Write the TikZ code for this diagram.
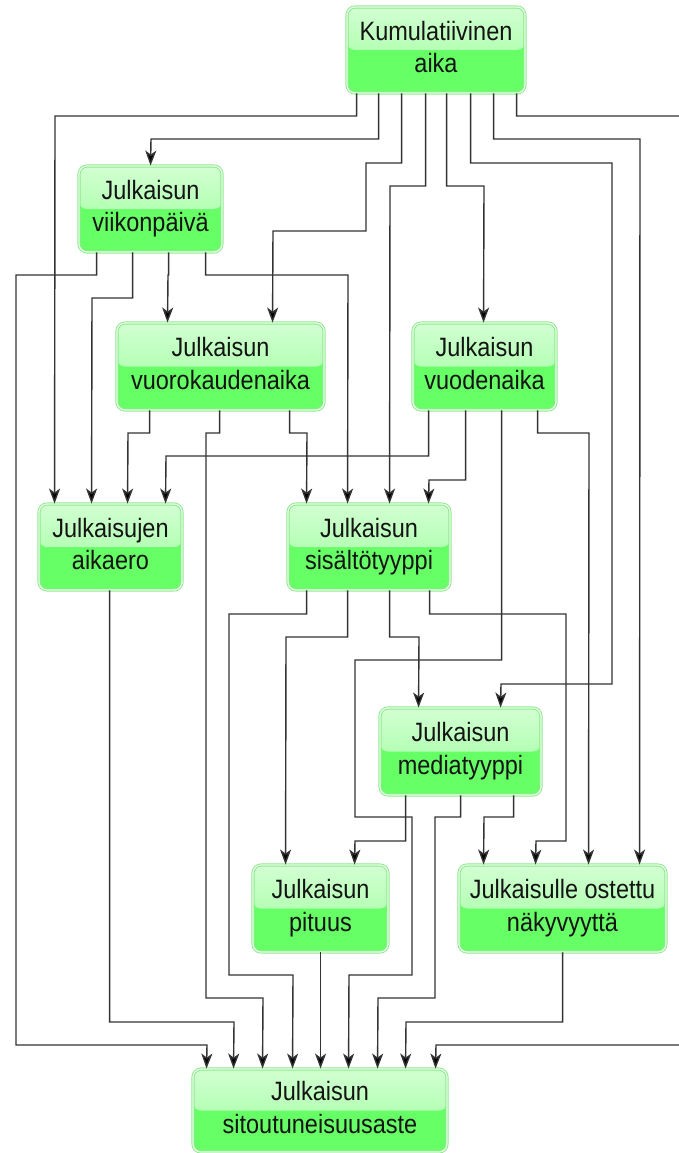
\documentclass[tikz,border=0pt]{standalone}
\usepackage{fontspec}
\setmainfont{Liberation Sans}
\usepackage{graphicx}
\usetikzlibrary{arrows.meta}
\definecolor{gtop}{HTML}{D2FFD2}
\definecolor{gmid}{HTML}{98FF98}
\definecolor{gbot}{HTML}{66FF66}
\definecolor{gborder}{HTML}{8EE88E}
\definecolor{ginner}{HTML}{E6FFE6}
\definecolor{lineclr}{HTML}{333333}
\newcommand\twol[2]{\scalebox{1}[1.13]{\begin{tabular}{@{}c@{}}#1\\#2\end{tabular}}}
\begin{document}
\begin{tikzpicture}[x=1pt,y=-1pt,
  box/.style={rectangle, rounded corners=8pt, draw=gborder, line width=0.9pt,
    double=ginner, double distance=1.3pt, fill=gbot, align=center, inner sep=0pt,
    text=black!92, font=\fontsize{23.5}{28.5}\selectfont,
    path picture={\fill[top color=gtop, bottom color=gmid]
      (path picture bounding box.north west) rectangle (path picture bounding box.east);}},
  arr/.style={draw=lineclr, line width=1.4pt, -{Stealth[length=15pt,width=11pt,inset=4pt,fill=black]}}
]
\useasboundingbox (0,0) rectangle (678,1153);
\node[box, minimum width=178, minimum height=86] (kum) at (436,50) {\twol{Kumulatiivinen}{aika}};
\node[box, minimum width=143, minimum height=86] (viik) at (150.5,209) {\twol{Julkaisun}{viikonpäivä}};
\node[box, minimum width=207, minimum height=87] (vuoro) at (220.5,366.5) {\twol{Julkaisun}{vuorokaudenaika}};
\node[box, minimum width=143, minimum height=87] (vuod) at (484.5,366.5) {\twol{Julkaisun}{vuodenaika}};
\node[box, minimum width=143, minimum height=86] (aika) at (110.5,547) {\twol{Julkaisujen}{aikaero}};
\node[box, minimum width=162, minimum height=86] (sis) at (369,547) {\twol{Julkaisun}{sisältötyyppi}};
\node[box, minimum width=161, minimum height=87] (media) at (460.5,751.5) {\twol{Julkaisun}{mediatyyppi}};
\node[box, minimum width=135, minimum height=87] (pit) at (320.5,908.5) {\twol{Julkaisun}{pituus}};
\node[box, minimum width=207, minimum height=87] (ost) at (562.5,908.5) {\twol{Julkaisulle ostettu}{näkyvyyttä}};
\node[box, minimum width=254, minimum height=83] (sit) at (320,1110.5) {\twol{Julkaisun}{sitoutuneisuusaste}};
% from Kumulatiivinen aika
\draw[arr] ([xshift=10]kum.south west) |- (55,116) -- ([xshift=16]aika.north west);
\draw[arr] ([xshift=32]kum.south west) |- (151,139) -- ([xshift=72]viik.north west);
\draw[arr] ([xshift=55]kum.south west) |- (366,163) |- (273,231) -- ([xshift=156]vuoro.north west);
\draw[arr] ([xshift=79]kum.south west) |- (390,186) -- ([xshift=102]sis.north west);
\draw[arr] ([xshift=100]kum.south west) |- (484,186) -- ([xshift=71]vuod.north west);
\draw[arr] ([xshift=124]kum.south west) |- (612,163) |- (501,684) -- ([xshift=121]media.north west);
\draw[arr] ([xshift=147]kum.south west) |- (640,139) -- ([xshift=181]ost.north west);
\draw[arr] ([xshift=170]kum.south west) |- (700,116) |- (436,1045) -- ([xshift=243]sit.north west);
% from Julkaisun viikonpäivä
\draw[arr] ([xshift=18]viik.south west) |- (16,275) |- (207,1045) -- ([xshift=14]sit.north west);
\draw[arr] ([xshift=54]viik.south west) |- (92,298) -- ([xshift=53]aika.north west);
\draw[arr] ([xshift=90]viik.south west) |- (168,275) -- ([xshift=51]vuoro.north west);
\draw[arr] ([xshift=127]viik.south west) |- (348,275) -- ([xshift=60]sis.north west);
% from Julkaisun vuorokaudenaika
\draw[arr] ([xshift=33]vuoro.south west) |- (128,433) -- ([xshift=89]aika.north west);
\draw[arr] ([xshift=103]vuoro.south west) |- (206,433) |- (263,998) -- ([xshift=70]sit.north west);
\draw[arr] ([xshift=173]vuoro.south west) |- (307,433) -- ([xshift=19]sis.north west);
% from Julkaisun vuodenaika
\draw[arr] ([xshift=16]vuod.south west) |- (166,456) -- ([xshift=127]aika.north west);
\draw[arr] ([xshift=53]vuod.south west) |- (429,480) -- ([xshift=141]sis.north west);
\draw[arr] ([xshift=89]vuod.south west) |- (355,660) |- (412,817) |- (349,975) -- ([xshift=156]sit.north west);
\draw[arr] ([xshift=125]vuod.south west) |- (589,433) -- ([xshift=130]ost.north west);
% from Julkaisujen aikaero
\draw[arr] ([xshift=71]aika.south west) |- (234,1022) -- ([xshift=41]sit.north west);
% from Julkaisun sisältötyyppi
\draw[arr] ([xshift=19]sis.south west) |- (229,614) |- (293,975) -- ([xshift=100]sit.north west);
\draw[arr] ([xshift=60]sis.south west) |- (286,637) -- ([xshift=33]pit.north west);
\draw[arr] ([xshift=102]sis.south west) |- (419,637) -- ([xshift=39]media.north west);
\draw[arr] ([xshift=142]sis.south west) |- (566,614) |- (536,841) -- ([xshift=77]ost.north west);
% from Julkaisun mediatyyppi
\draw[arr] ([xshift=26]media.south west) |- (355,841) -- ([xshift=102]pit.north west);
\draw[arr] ([xshift=81]media.south west) |- (435,817) |- (378,998) -- ([xshift=185]sit.north west);
\draw[arr] ([xshift=134]media.south west) |- (484,817) -- ([xshift=25]ost.north west);
% from Julkaisun pituus
\draw[arr] ([xshift=68]pit.south west) -- ([xshift=128]sit.north west);
% from Julkaisulle ostettu näkyvyyttä
\draw[arr] ([xshift=104]ost.south west) |- (406,1022) -- ([xshift=213]sit.north west);
\end{tikzpicture}
\end{document}
